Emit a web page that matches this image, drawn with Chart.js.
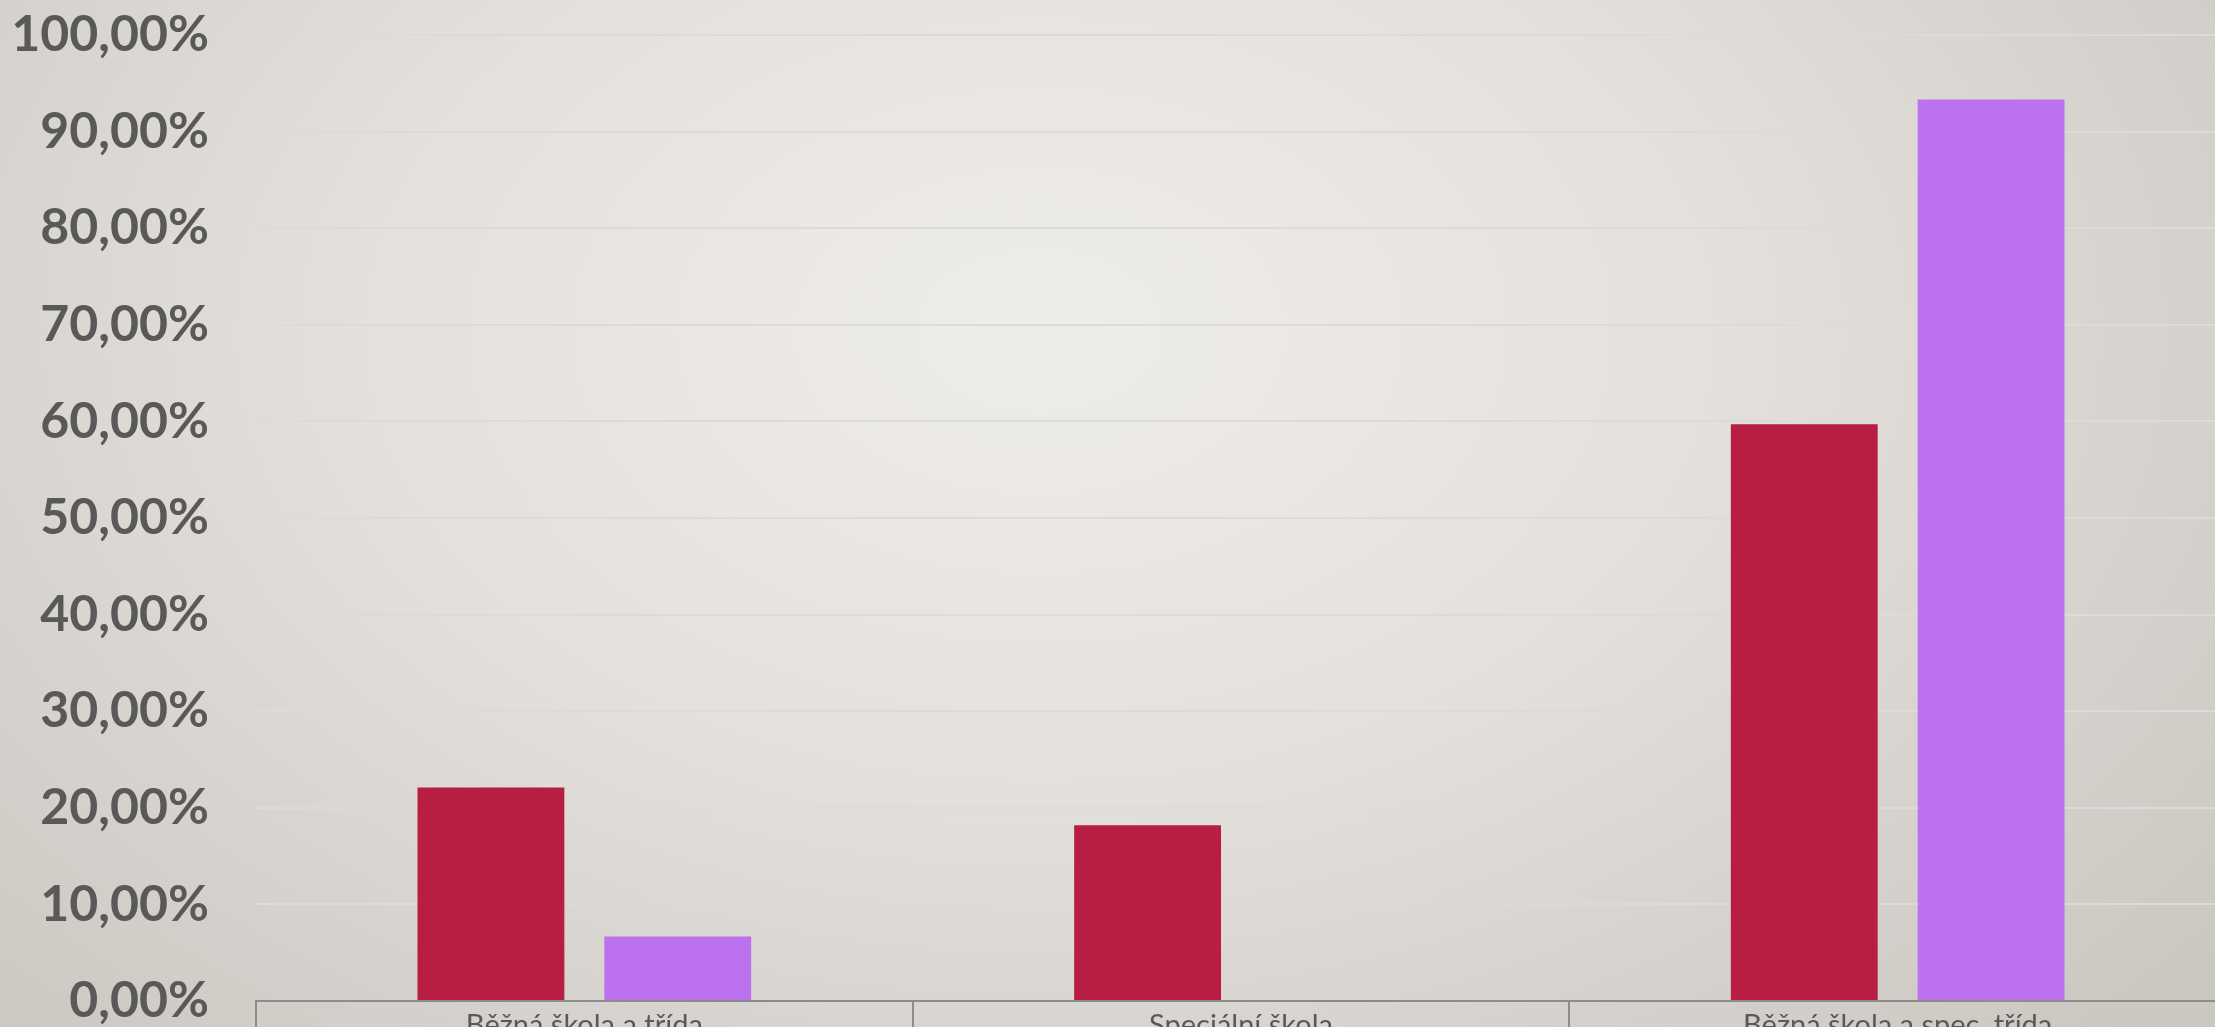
<!DOCTYPE html>
<html>
<head>
<meta charset="utf-8">
<script src="https://cdn.jsdelivr.net/npm/chart.js@4"></script>
<style>
  html, body { margin: 0; padding: 0; overflow: hidden; }
  body {
    width: 2215px; height: 1027px;
    background: radial-gradient(ellipse 1500px 1000px at 1040px 330px, #efedea 0%, #e4e1dd 45%, #d6d2cd 75%, #cbc7c1 100%);
  }
  #wrap { position: absolute; left: 0; top: 0; width: 2215px; height: 1027px; overflow: hidden; }
</style>
</head>
<body>
<div id="wrap"><canvas id="chart" width="2226" height="1031"></canvas></div>
<script>
// categories and series (percent)
const categories = ['Běžná škola a třída', 'Speciální škola', 'Běžná škola a spec. třída'];
const seriesRed    = [22.1, 18.2, 59.7];
const seriesPurple = [6.67, 0, 93.33];
const yTicks = { min: 0, max: 100, step: 10 };

const C = {
  red:    '#b71e42',
  purple: '#bc71ee',
  text:   '#595959',
  grid:   '#dcdbd9',
  axis:   '#8c8c8c',
};

const pct = v => v.toFixed(2).replace('.', ',') + '%';

new Chart(document.getElementById('chart'), {
  type: 'bar',
  data: {
    labels: categories,
    datasets: [
      { data: seriesRed,    backgroundColor: C.red,    borderWidth: 0 },
      { data: seriesPurple, backgroundColor: C.purple, borderWidth: 0 },
    ],
  },
  options: {
    responsive: false,
    animation: false,
    devicePixelRatio: 1,
    categoryPercentage: 0.569,
    barPercentage: 0.786,
    layout: { padding: { top: 35, left: 0, right: 0, bottom: 0 } },
    plugins: { legend: { display: false }, tooltip: { enabled: false } },
    scales: {
      x: {
        afterFit: s => { s.height = 30; },
        border: { display: true, color: C.axis, width: 2 },
        grid: {
          offset: true, drawOnChartArea: false, drawTicks: true,
          tickLength: 30, color: C.axis, lineWidth: 2,
        },
        ticks: {
          color: C.text, padding: -23, maxRotation: 0,
          font: { family: 'Lato', size: 29 },
        },
      },
      y: {
        min: yTicks.min, max: yTicks.max,
        afterFit: s => { s.width = 256; },
        border: { display: false },
        // invisible tick marks give the 47px gap between labels and plot
        grid: { color: C.grid, lineWidth: 2, drawTicks: true, tickLength: 47, tickColor: 'rgba(0,0,0,0)' },
        ticks: {
          stepSize: yTicks.step, padding: 0, color: C.text,
          font: { family: 'Lato', size: 50, weight: 'bold' },
          callback: v => pct(v),
        },
      },
    },
  },
});
</script>
</body>
</html>
